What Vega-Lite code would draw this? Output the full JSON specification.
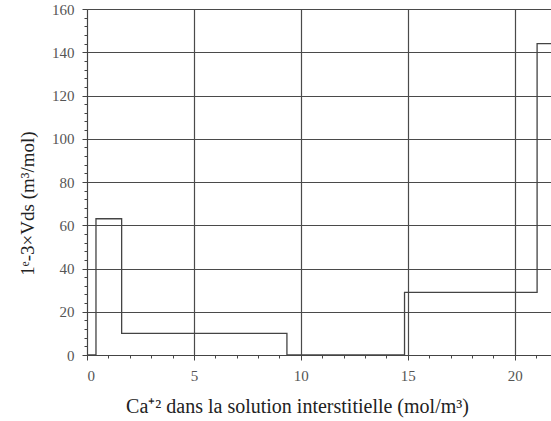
{
  "$schema": "https://vega.github.io/schema/vega-lite/v6.json",
  "width": 464,
  "height": 346,
  "autosize": {"type": "none"},
  "padding": {"left": 87, "top": 9, "right": 0, "bottom": 66},
  "background": "white",
  "config": {
    "view": {"stroke": null},
    "font": "Liberation Serif",
    "axis": {
      "labelFont": "Liberation Serif",
      "titleFont": "Liberation Serif",
      "labelFontSize": 15,
      "titleFontSize": 19,
      "labelColor": "#555555",
      "titleColor": "#222222",
      "titleFontWeight": "normal",
      "domainColor": "#444444",
      "tickColor": "#444444",
      "gridColor": "#4a4a4a",
      "gridOpacity": 1,
      "gridWidth": 1.2
    }
  },
  "data": {
    "values": [
      {"ca": 0, "v": 0},
      {"ca": 0.42, "v": 63},
      {"ca": 1.62, "v": 10},
      {"ca": 9.35, "v": 0},
      {"ca": 14.85, "v": 29},
      {"ca": 21.05, "v": 144},
      {"ca": 21.8, "v": 144}
    ]
  },
  "resolve": {"axis": {"x": "independent", "y": "independent"}},
  "layer": [
    {
      "mark": {"type": "line", "interpolate": "step-after", "color": "#444444", "strokeWidth": 1.3, "clip": true},
      "encoding": {
        "x": {
          "field": "ca", "type": "quantitative",
          "scale": {"domain": [0, 21.7], "nice": false, "zero": false},
          "axis": {
            "orient": "bottom",
            "labelFont": "Liberation Serif",
            "values": [0, 5, 10, 15, 20], "grid": true, "tickSize": 5,
            "labelPadding": 8, "title": "Ca⁺² dans la solution interstitielle (mol/m³)",
            "titleFontSize": 20,
            "titleX": 210, "titleY": 51, "titleBaseline": "middle", "titleAnchor": "middle", "titleAlign": "center"
          }
        },
        "y": {
          "field": "v", "type": "quantitative",
          "scale": {"domain": [0, 160], "nice": false},
          "axis": {
            "orient": "left",
            "labelFont": "Liberation Serif",
            "values": [0, 20, 40, 60, 80, 100, 120, 140, 160], "grid": true, "tickSize": 5,
            "labelPadding": 8, "title": "1ᵉ-3×Vds (m³/mol)",
            "titleX": -60, "titleY": 194, "titleBaseline": "middle", "titleAlign": "center", "titleAngle": 270
          }
        }
      }
    },
    {
      "mark": {"type": "line", "opacity": 0},
      "encoding": {
        "x": {
          "field": "ca", "type": "quantitative",
          "axis": {
            "orient": "bottom",
            "values": [1, 2, 3, 4, 6, 7, 8, 9, 11, 12, 13, 14, 16, 17, 18, 19, 21],
            "labels": false, "domain": false, "grid": false, "tickSize": 3, "title": null
          }
        },
        "y": {
          "field": "v", "type": "quantitative",
          "axis": {
            "orient": "left",
            "values": [4, 8, 12, 16, 24, 28, 32, 36, 44, 48, 52, 56, 64, 68, 72, 76, 84, 88, 92, 96, 104, 108, 112, 116, 124, 128, 132, 136, 144, 148, 152, 156],
            "labels": false, "domain": false, "grid": false, "tickSize": 3, "title": null
          }
        }
      }
    }
  ]
}
